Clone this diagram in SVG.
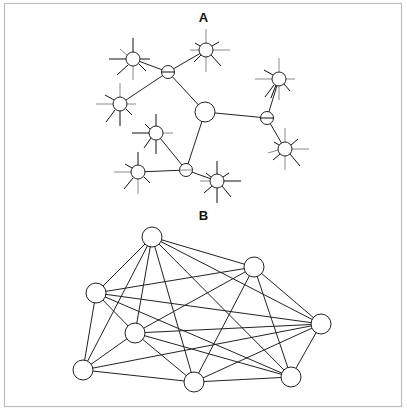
<svg xmlns="http://www.w3.org/2000/svg" width="407" height="412" viewBox="0 0 407 412">
<style>
.frame{fill:#fff;stroke:#bdbdbd;stroke-width:1.2}
.lbl{font-family:"Liberation Sans",Arial,sans-serif;font-weight:bold;font-size:13px;fill:#111;text-anchor:middle}
.edge{stroke:#222;stroke-width:1;fill:none}
.node{fill:#fff;stroke:#222;stroke-width:1}
.k{stroke:#111;stroke-width:1}
.g{stroke:#8a8a8a;stroke-width:1}
</style>
<rect class="frame" x="4.5" y="3.5" width="397" height="403"/>
<text class="lbl" x="203.5" y="22">A</text>
<text class="lbl" x="203.5" y="220">B</text>
<g id="connectors-A">
<line class="edge" x1="168" y1="72" x2="133" y2="59"/>
<line class="edge" x1="168" y1="72" x2="206" y2="50"/>
<line class="edge" x1="168" y1="72" x2="120" y2="104"/>
<line class="edge" x1="168" y1="72" x2="205" y2="112"/>
<line class="edge" x1="205" y1="112" x2="267" y2="118"/>
<line class="edge" x1="205" y1="112" x2="186" y2="170"/>
<line class="edge" x1="267" y1="118" x2="279" y2="79"/>
<line class="edge" x1="267" y1="118" x2="285" y2="149"/>
<line class="edge" x1="186" y1="170" x2="156" y2="133"/>
<line class="edge" x1="186" y1="170" x2="138" y2="172"/>
<line class="edge" x1="186" y1="170" x2="217" y2="181"/>
</g>
<g id="connectors-B">
<line class="edge" x1="152" y1="237" x2="254" y2="267"/>
<line class="edge" x1="152" y1="237" x2="96" y2="293"/>
<line class="edge" x1="152" y1="237" x2="135" y2="333"/>
<line class="edge" x1="152" y1="237" x2="321" y2="324"/>
<line class="edge" x1="152" y1="237" x2="83" y2="370"/>
<line class="edge" x1="152" y1="237" x2="194" y2="382"/>
<line class="edge" x1="152" y1="237" x2="291" y2="377"/>
<line class="edge" x1="254" y1="267" x2="96" y2="293"/>
<line class="edge" x1="254" y1="267" x2="135" y2="333"/>
<line class="edge" x1="254" y1="267" x2="321" y2="324"/>
<line class="edge" x1="254" y1="267" x2="194" y2="382"/>
<line class="edge" x1="254" y1="267" x2="291" y2="377"/>
<line class="edge" x1="96" y1="293" x2="135" y2="333"/>
<line class="edge" x1="96" y1="293" x2="321" y2="324"/>
<line class="edge" x1="96" y1="293" x2="83" y2="370"/>
<line class="edge" x1="96" y1="293" x2="291" y2="377"/>
<line class="edge" x1="135" y1="333" x2="321" y2="324"/>
<line class="edge" x1="135" y1="333" x2="83" y2="370"/>
<line class="edge" x1="135" y1="333" x2="194" y2="382"/>
<line class="edge" x1="135" y1="333" x2="291" y2="377"/>
<line class="edge" x1="321" y1="324" x2="83" y2="370"/>
<line class="edge" x1="321" y1="324" x2="194" y2="382"/>
<line class="edge" x1="321" y1="324" x2="291" y2="377"/>
<line class="edge" x1="83" y1="370" x2="194" y2="382"/>
<line class="edge" x1="194" y1="382" x2="291" y2="377"/>
</g>
<g id="star1" transform="translate(133,59)">
<line class="k" x1="0" y1="-7" x2="0" y2="-21"/><line class="k" x1="-7" y1="0" x2="-24" y2="0"/>
<line class="g" x1="-6" y1="-4" x2="-13" y2="-10"/><line class="k" x1="7" y1="0" x2="17" y2="0"/>
<line class="g" x1="0" y1="7" x2="0" y2="21"/><line class="k" x1="-5" y1="6" x2="-16" y2="16"/>
<line class="k" x1="6" y1="5" x2="13" y2="12"/>
<circle class="node" r="7"/></g>
<g id="star2" transform="translate(206,50)">
<line class="g" x1="0" y1="-7" x2="0" y2="-21"/><line class="g" x1="7" y1="0" x2="24" y2="0"/>
<line class="k" x1="6" y1="-4" x2="13" y2="-8"/><line class="g" x1="-7" y1="0" x2="-16" y2="0"/>
<line class="k" x1="-6" y1="-4" x2="-11" y2="-7"/><line class="g" x1="0" y1="7" x2="0" y2="22"/>
<line class="k" x1="5" y1="5" x2="15" y2="16"/><line class="k" x1="-5" y1="5" x2="-12" y2="12"/>
<circle class="node" r="7"/></g>
<g id="star3" transform="translate(120,104)">
<line class="g" x1="0" y1="-7" x2="0" y2="-21"/><line class="g" x1="-7" y1="0" x2="-24" y2="0"/>
<line class="k" x1="-6" y1="-4" x2="-15" y2="-9"/><line class="g" x1="7" y1="0" x2="16" y2="0"/>
<line class="k" x1="0" y1="7" x2="0" y2="22"/><line class="k" x1="-5" y1="6" x2="-14" y2="18"/>
<line class="k" x1="6" y1="5" x2="12" y2="11"/>
<circle class="node" r="7"/></g>
<g id="star4" transform="translate(279,79)">
<line class="g" x1="0" y1="-7" x2="0" y2="-21"/><line class="g" x1="-7" y1="0" x2="-24" y2="0"/>
<line class="k" x1="-6" y1="-4" x2="-15" y2="-9"/><line class="g" x1="7" y1="0" x2="16" y2="0"/>
<line class="g" x1="0" y1="7" x2="0" y2="21"/><line class="k" x1="-5" y1="6" x2="-14" y2="18"/>
<line class="k" x1="-3" y1="6" x2="-8" y2="19"/><line class="k" x1="5" y1="5" x2="11" y2="12"/>
<circle class="node" r="7"/></g>
<g id="star5" transform="translate(285,149)">
<line class="g" x1="0" y1="-7" x2="0" y2="-21"/><line class="g" x1="7" y1="0" x2="24" y2="0"/>
<line class="k" x1="6" y1="-4" x2="13" y2="-10"/><line class="g" x1="-7" y1="1" x2="-17" y2="4"/>
<line class="k" x1="-6" y1="-4" x2="-11" y2="-7"/><line class="g" x1="0" y1="7" x2="0" y2="21"/>
<line class="k" x1="-5" y1="5" x2="-12" y2="11"/><line class="k" x1="5" y1="5" x2="15" y2="17"/>
<circle class="node" r="7"/></g>
<g id="star6" transform="translate(156,133)">
<line class="k" x1="0" y1="-7" x2="0" y2="-19"/><line class="k" x1="-7" y1="0" x2="-24" y2="0"/>
<line class="k" x1="-6" y1="-4" x2="-11" y2="-9"/><line class="g" x1="7" y1="0" x2="17" y2="0"/>
<line class="k" x1="0" y1="7" x2="0" y2="21"/><line class="k" x1="-5" y1="5" x2="-12" y2="15"/>
<circle class="node" r="7"/></g>
<g id="star7" transform="translate(138,172)">
<line class="k" x1="0" y1="-7" x2="0" y2="-20"/><line class="g" x1="-7" y1="0" x2="-24" y2="0"/>
<line class="k" x1="-6" y1="-4" x2="-13" y2="-8"/><line class="g" x1="0" y1="7" x2="0" y2="22"/>
<line class="k" x1="-5" y1="6" x2="-14" y2="17"/><line class="k" x1="6" y1="5" x2="12" y2="11"/>
<circle class="node" r="7"/></g>
<g id="star8" transform="translate(217,181)">
<line class="k" x1="0" y1="-7" x2="0" y2="-20"/><line class="k" x1="7" y1="0" x2="24" y2="0"/>
<line class="k" x1="6" y1="-4" x2="12" y2="-8"/><line class="g" x1="-7" y1="0" x2="-17" y2="0"/>
<line class="k" x1="-6" y1="-4" x2="-11" y2="-8"/><line class="k" x1="0" y1="7" x2="0" y2="22"/>
<line class="k" x1="-5" y1="5" x2="-13" y2="12"/><line class="k" x1="5" y1="5" x2="14" y2="16"/>
<circle class="node" r="7"/></g>
<g id="hubA1" transform="translate(168,72)"><circle class="node" r="6.5"/><line class="k" x1="-6.5" y1="0" x2="6.5" y2="0"/></g>
<g id="hubA2" transform="translate(267,118)"><circle class="node" r="6.5"/><line class="k" x1="-6.5" y1="0" x2="6.5" y2="0"/></g>
<g id="hubA3" transform="translate(186,170)"><circle class="node" r="6.5"/><line class="g" x1="-6.5" y1="0" x2="6.5" y2="0"/></g>
<g id="centerA"><circle class="node" cx="205" cy="112" r="10"/></g>
<g id="b1"><circle class="node" cx="152" cy="237" r="10"/></g>
<g id="b2"><circle class="node" cx="254" cy="267" r="10"/></g>
<g id="b3"><circle class="node" cx="96" cy="293" r="10"/></g>
<g id="b4"><circle class="node" cx="135" cy="333" r="10"/></g>
<g id="b5"><circle class="node" cx="321" cy="324" r="10"/></g>
<g id="b6"><circle class="node" cx="83" cy="370" r="10"/></g>
<g id="b7"><circle class="node" cx="194" cy="382" r="10"/></g>
<g id="b8"><circle class="node" cx="291" cy="377" r="10"/></g>
</svg>
